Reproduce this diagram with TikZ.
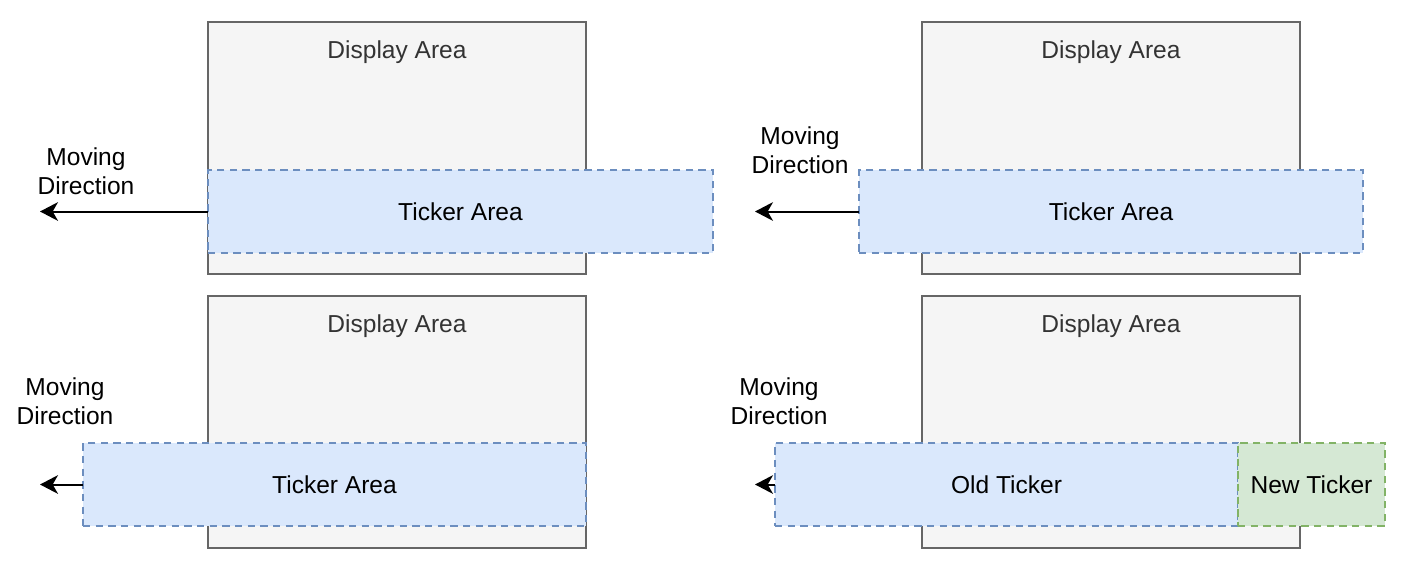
\documentclass[tikz,border=0pt]{standalone}
\usepackage{fontspec}
\setmainfont{Liberation Sans}
\usetikzlibrary{arrows.meta}
\definecolor{dispfill}{HTML}{F5F5F5}
\definecolor{displine}{HTML}{666666}
\definecolor{disptext}{HTML}{333333}
\definecolor{tickfill}{HTML}{DAE8FC}
\definecolor{tickline}{HTML}{6C8EBF}
\definecolor{newfill}{HTML}{D5E8D4}
\definecolor{newline}{HTML}{82B366}
\tikzset{
  dispbox/.style={draw=displine, fill=dispfill, line width=1.5pt, minimum width=283.5pt, minimum height=189pt, inner sep=0pt, outer sep=0pt},
  disptitle/.style={text=disptext, font=\fontsize{18.4}{22}\selectfont},
  tickbox/.style={draw=tickline, fill=tickfill, line width=1.6pt, dash pattern=on 5.5pt off 4pt, minimum height=62.25pt, inner sep=0pt, outer sep=0pt, font=\fontsize{18.4}{22}\selectfont},
  newbox/.style={tickbox, draw=newline, fill=newfill},
  movelabel/.style={align=center, font=\fontsize{18.4}{22}\selectfont},
  movearrow/.style={line width=1.5pt, -{Stealth[length=13.5pt, width=14pt, inset=4pt]}}
}
\begin{document}
\begin{tikzpicture}[x=0.75pt, y=-0.75pt]
\useasboundingbox (0,0) rectangle (1413,582);
% top-left
\node[dispbox] (tlDisp) at (397,148) {};
\node[disptitle] (tlTitle) at (397,52.5) {Display Area};
\node[tickbox, minimum width=378.75pt] (tlTick) at (460.5,211.5) {Ticker Area};
\node[movelabel] (tlLabel) at (86,171) {Moving\\Direction};
\coordinate (tlEnd) at (40,211.5);
\draw[movearrow] (tlTick.west) -- (tlEnd);
% top-right
\node[dispbox] (trDisp) at (1111,148) {};
\node[disptitle] (trTitle) at (1111,52.5) {Display Area};
\node[tickbox, minimum width=378pt] (trTick) at (1111,211.5) {Ticker Area};
\node[movelabel] (trLabel) at (800,150) {Moving\\Direction};
\coordinate (trEnd) at (755,211.5);
\draw[movearrow] (trTick.west) -- (trEnd);
% bottom-left
\node[dispbox] (blDisp) at (397,422) {};
\node[disptitle] (blTitle) at (397,326.5) {Display Area};
\node[tickbox, minimum width=377.25pt] (blTick) at (334.5,484.5) {Ticker Area};
\node[movelabel] (blLabel) at (65,401) {Moving\\Direction};
\coordinate (blEnd) at (40,484.5);
\draw[movearrow] (blTick.west) -- (blEnd);
% bottom-right
\node[dispbox] (brDisp) at (1111,422) {};
\node[disptitle] (brTitle) at (1111,326.5) {Display Area};
\node[tickbox, minimum width=347.25pt] (brOld) at (1006.5,484.5) {Old Ticker};
\node[newbox, minimum width=110.25pt] (brNew) at (1311.5,484.5) {New Ticker};
\node[movelabel] (brLabel) at (779,401) {Moving\\Direction};
\coordinate (brEnd) at (755,484.5);
\draw[movearrow] (brOld.west) -- (brEnd);
\end{tikzpicture}
\end{document}
